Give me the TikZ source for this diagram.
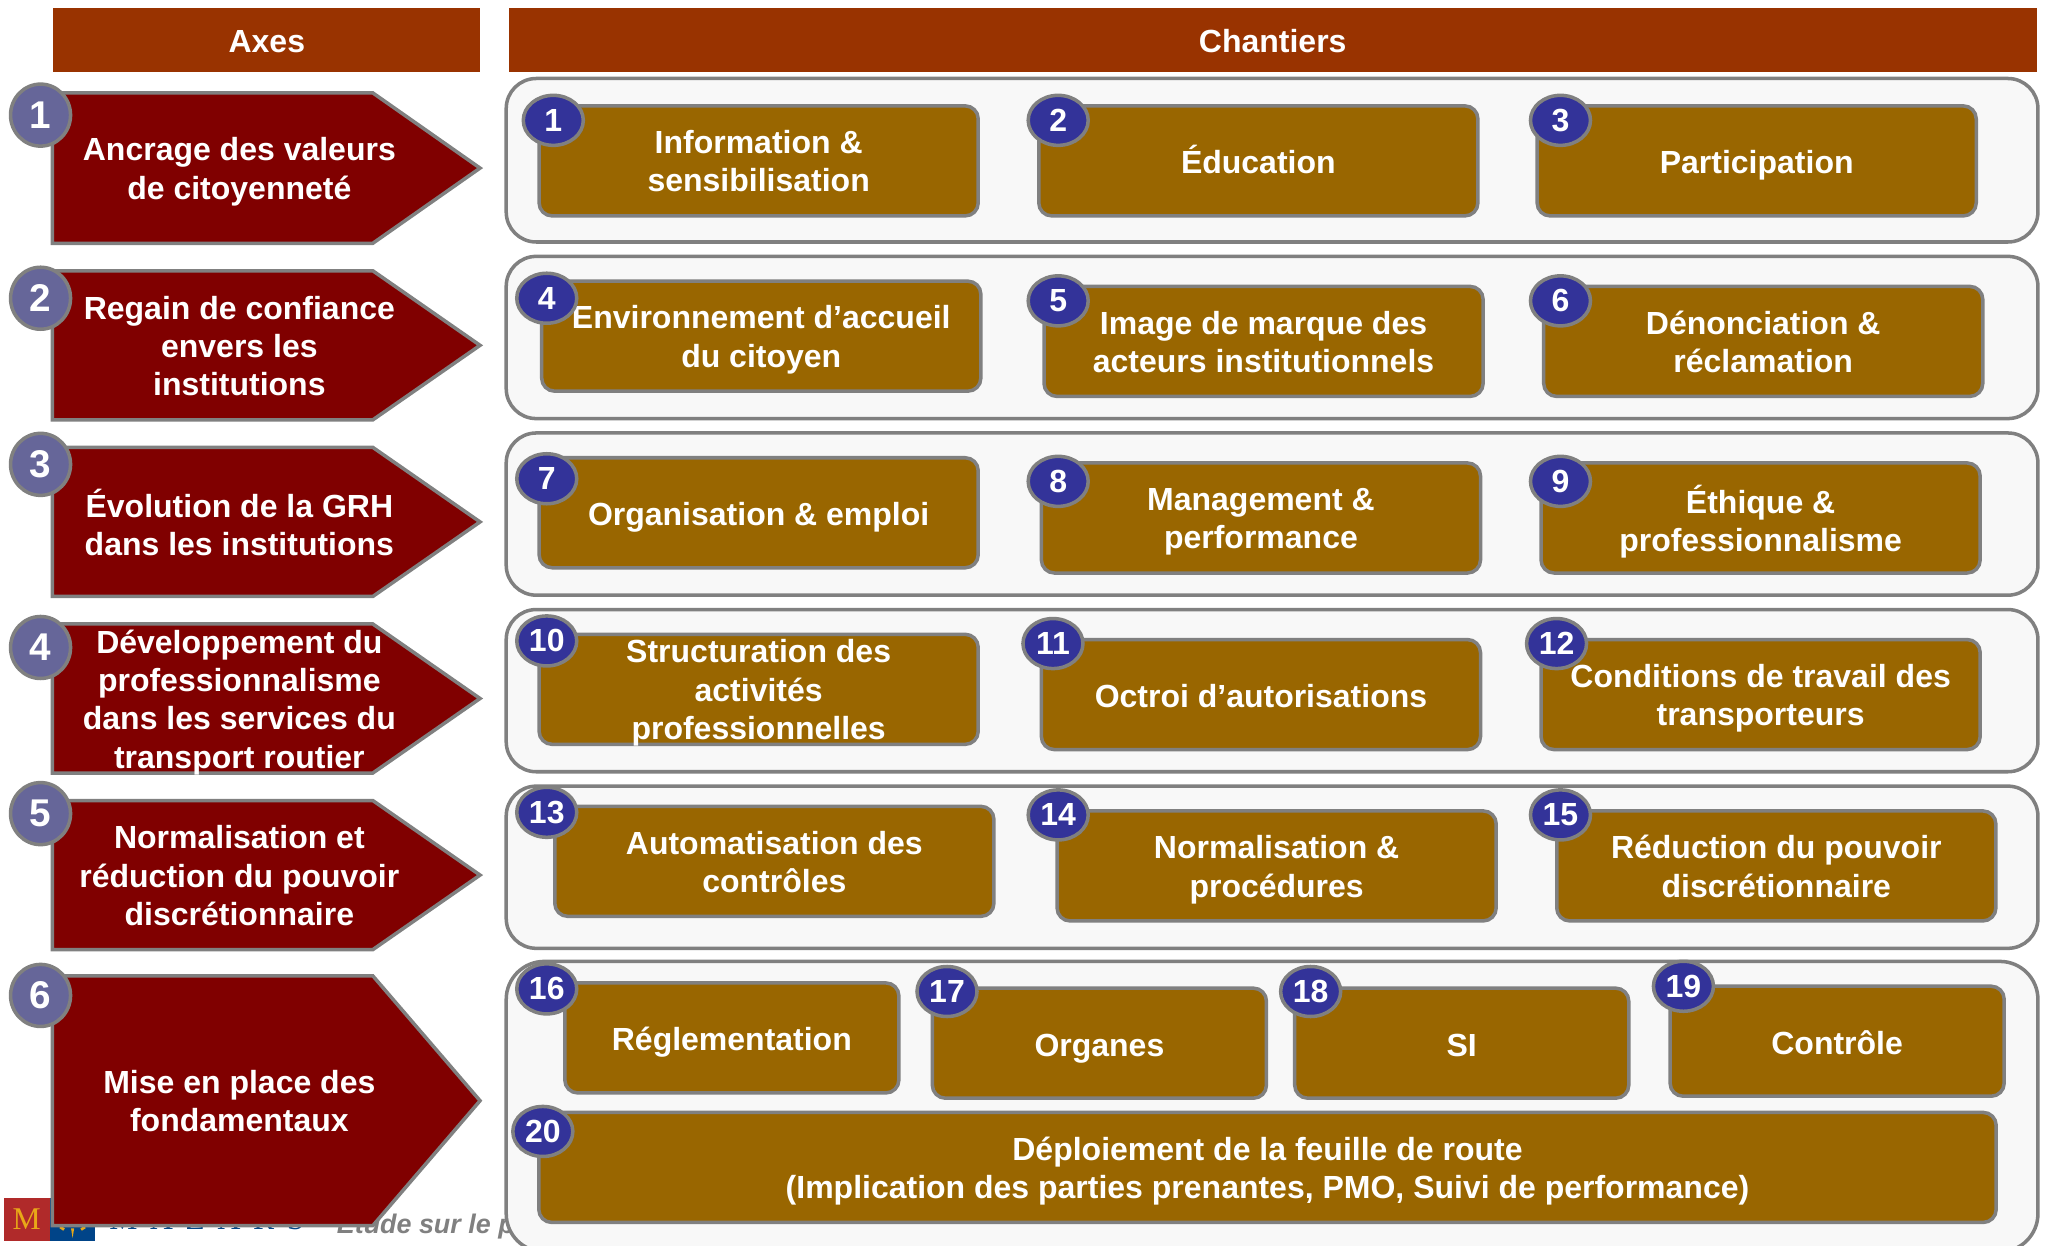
\documentclass[tikz,border=0pt]{standalone}
\usepackage{fontspec}
\setmainfont{Liberation Sans}
\newfontfamily\mazarsfont{Liberation Serif}
\usetikzlibrary{shapes.geometric}
\definecolor{entete}{HTML}{993300}
\definecolor{axefill}{HTML}{800000}
\definecolor{chantierfill}{HTML}{996600}
\definecolor{cadrefill}{HTML}{F8F8F8}
\definecolor{trait}{HTML}{808080}
\definecolor{bulleaxe}{HTML}{666699}
\definecolor{bullechantier}{HTML}{333399}
\definecolor{mazarsrouge}{HTML}{B02A2A}
\definecolor{mazarsbleu}{HTML}{004488}
\definecolor{mazarsor}{HTML}{E8A818}
\tikzset{
  texte/.style={text=white,font=\fontsize{9.1}{10.9}\selectfont\bfseries,align=center,inner sep=0pt,
    execute at begin node={\rule{0pt}{9.4pt}},execute at end node={\rule[-2pt]{0pt}{2pt}}},
  enteteb/.style={fill=entete,minimum height=0.64cm,inner sep=0pt,texte},
  cadre/.style={draw=trait,line width=1pt,fill=cadrefill,rounded corners=0.3cm},
  axe/.style={draw=trait,line width=1pt,fill=axefill},
  chantier/.style={draw=trait,line width=1pt,fill=chantierfill,rounded corners=0.13cm,minimum height=1.1cm,inner sep=0pt},
  bulle/.style={ellipse,draw=trait,line width=1pt,fill=bulleaxe,minimum width=0.6cm,minimum height=0.62cm,inner sep=0pt,text=white,font=\fontsize{11}{12}\selectfont\bfseries},
  petitebulle/.style={ellipse,draw=trait,line width=1pt,fill=bullechantier,minimum width=0.6cm,minimum height=0.5cm,inner sep=0pt,text=white,font=\fontsize{9.1}{10}\selectfont\bfseries},
}
\begin{document}
\begin{tikzpicture}[x=0.01308cm,y=-0.01308cm]
\useasboundingbox (0,0) rectangle (1568,952);
% pied de page
\fill[mazarsrouge] (3,916) rectangle (38,949);
\fill[mazarsbleu] (38,916) rectangle (72.6,949);
\fill[mazarsor] (54.3,939) -- (56.7,939) -- (55.5,946.5) -- cycle;
\draw[mazarsor,line width=0.8pt] (46,938) -- (49,940);
\draw[mazarsor,line width=0.8pt] (62,940) -- (65,938);
\node[text=mazarsor,font=\mazarsfont\fontsize{9}{9}\selectfont] (logo) at (20.5,932) {M};
\node[text=mazarsbleu,font=\mazarsfont\fontsize{9}{9}\selectfont,anchor=base west,inner sep=0pt] (mazars) at (83,940) {M\hspace{3.6pt}A\hspace{3.6pt}Z\hspace{3.6pt}A\hspace{3.6pt}R\hspace{3.6pt}S};
\node[text=trait,font=\fontsize{7.65}{9}\selectfont\bfseries\itshape,anchor=base west,inner sep=0pt] (etude) at (257,943) {Étude sur le p};
% entetes
\node[enteteb,minimum width=4.27cm] (axes) at (204,30.5) {Axes};
\node[enteteb,minimum width=15.28cm] (chantiers) at (973,30.5) {Chantiers};
% axes
\foreach \n/\haut/\bas/\by/\txt in {
  1/71/186/88/{Ancrage des valeurs\\de citoyenneté},
  2/207/321/228/{Regain de confiance\\envers les\\institutions},
  3/342/456/355/{Évolution de la GRH\\dans les institutions},
  4/477/591/495/{Développement du\\professionnalisme\\dans les services du\\transport routier},
  5/612/726/622/{Normalisation et\\réduction du pouvoir\\discrétionnaire},
  6/746/937/761/{Mise en place des\\fondamentaux}}{
  \draw[axe] (40,\haut) -- (285,\haut) -- (367,{(\haut+\bas)/2}) -- (285,\bas) -- (40,\bas) -- cycle;
  \node[texte] (a\n) at (183,{(\haut+\bas)/2+3}) {\txt};
  \node[bulle] (ba\n) at (31,\by) {\n};
}
% cadres
\foreach \haut/\bas in {60/185,196/320,331/455,466/590,601/725}
  \draw[cadre] (387,\haut) rectangle (1558,\bas);
\draw[cadre,rounded corners=0.38cm] (387,735) rectangle (1558,957);
% chantiers
\foreach \n/\cx/\cy/\w/\bx/\by/\dy/\txt in {
  1/580/123/4.39/423/92/-1.1/{Information \&\\sensibilisation},
  2/962/123/4.39/809/92/0/{Éducation},
  3/1343/123/4.39/1193/92/0/{Participation},
  4/582/257/4.39/418/228/-1.1/{Environnement d’accueil\\du citoyen},
  5/966/261/4.39/809/230/-1.1/{Image de marque des\\acteurs institutionnels},
  6/1348/261/4.39/1193/230/-1.1/{Dénonciation \&\\réclamation},
  7/580/392/4.39/418/366/0/{Organisation \& emploi},
  8/964/396/4.39/809/368/-1.1/{Management \&\\performance},
  9/1346/396/4.39/1193/368/-1.1/{Éthique \&\\professionnalisme},
  10/580/527/4.39/418/490/-1.1/{Structuration des\\activités\\professionnelles},
  11/964/531/4.39/805/492/0/{Octroi d’autorisations},
  12/1346/531/4.39/1190/492/-1.1/{Conditions de travail des\\transporteurs},
  13/592/658.5/4.39/418/621/-1.1/{Automatisation des\\contrôles},
  14/976/662/4.39/809/623/-1.1/{Normalisation \&\\procédures},
  15/1358/662/4.39/1193/623/-1.1/{Réduction du pouvoir\\discrétionnaire},
  16/559.5/793.5/3.34/418/756/0/{Réglementation},
  17/840.5/797.5/3.34/724/758/0/{Organes},
  18/1117.5/797.5/3.34/1002/758/0/{SI},
  19/1404.5/796/3.34/1287/754/0/{Contrôle},
  20/969/892.5/14.57/415/865/-1.1/{Déploiement de la feuille de route\\(Implication des parties prenantes, PMO, Suivi de performance)}}{
  \node[chantier,minimum width=\w cm] (c\n) at (\cx,\cy) {};
  \node[texte,yshift=\dy pt] (t\n) at (c\n) {\txt};
  \node[petitebulle] (bc\n) at (\bx,\by) {\n};
}
\end{tikzpicture}
\end{document}
